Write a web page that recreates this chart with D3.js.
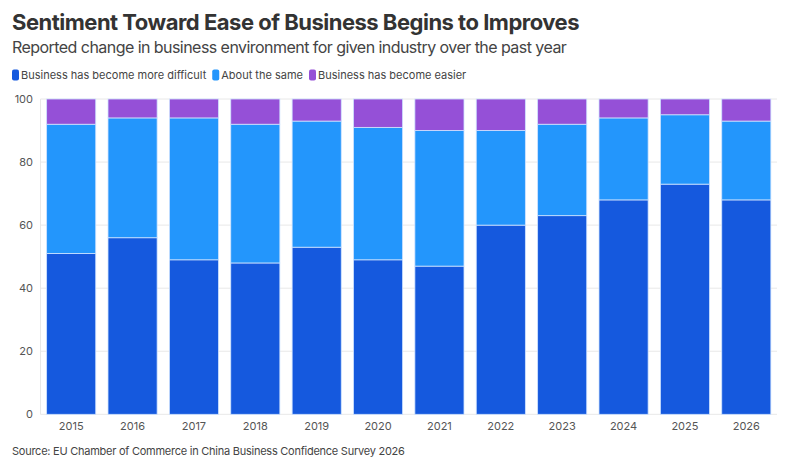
<!DOCTYPE html>
<html><head><meta charset="utf-8">
<script src="https://cdn.jsdelivr.net/npm/d3@7/dist/d3.min.js"></script>
<style>body{margin:0;background:#fff;font-family:"Inter","Open Sans",sans-serif;}</style>
</head><body><svg id="c" width="795" height="460"></svg>
<script>
const years = ["2015","2016","2017","2018","2019","2020","2021","2022","2023","2024","2025","2026"];
const difficult = [51,56,49,48,53,49,47,60,63,68,73,68];
const same      = [41,38,45,44,40,42,43,30,29,26,22,25];
const easier    = [8,6,6,8,7,9,10,10,8,6,5,7];
const seriesNames = ["Business has become more difficult","About the same","Business has become easier"];
const yTicks = [0,20,40,60,80,100];
const colors = ["#1559DE","#2396FC","#9550D7"];

const svg = d3.select("#c");
const W=795,H=460;
const m={l:40.5,r:18,t:99,b:46};
const x = d3.scaleBand().domain(years).range([m.l,W-m.r]).paddingInner(0.2).paddingOuter(0.1);
const y = d3.scaleLinear().domain([0,100]).range([414.3,99]);

svg.append("text").attr("x",12).attr("y",30).attr("font-size",22).attr("font-weight",700).attr("letter-spacing",-0.5).attr("fill","#333").text("Sentiment Toward Ease of Business Begins to Improves");
svg.append("text").attr("x",12).attr("y",53).attr("font-size",16).attr("letter-spacing",-0.55).attr("fill","#444").text("Reported change in business environment for given industry over the past year");

// legend
let lx=12;
seriesNames.forEach((n,i)=>{
  svg.append("rect").attr("x",lx).attr("y",69.5).attr("width",7).attr("height",11).attr("rx",2).attr("fill",colors[i]);
  const t=svg.append("text").attr("x",lx+9).attr("y",79).attr("font-size",11).attr("fill","#444").text(n);
  lx += 9 + t.node().getComputedTextLength() + 6;
});

// grid
svg.append("g").selectAll("line").data(yTicks).join("line")
  .attr("x1",m.l).attr("x2",W-m.r).attr("y1",d=>y(d)).attr("y2",d=>y(d))
  .attr("stroke","#e8e8e8").attr("stroke-width",1);
svg.append("line").attr("x1",m.l).attr("x2",m.l).attr("y1",y(100)).attr("y2",y(0)).attr("stroke","#e8e8e8");

const data = years.map((yr,i)=>({year:yr,difficult:difficult[i],same:same[i],easier:easier[i]}));
const stack = d3.stack().keys(["difficult","same","easier"])(data);
svg.append("g").selectAll("g").data(stack).join("g").attr("fill",(d,i)=>colors[i])
  .selectAll("rect").data(d=>d).join("rect")
  .attr("x",d=>x(d.data.year)).attr("width",x.bandwidth())
  .attr("y",d=>y(d[1])).attr("height",d=>y(d[0])-y(d[1]))
  .attr("stroke","#cfe3ff").attr("stroke-width",0.8);

// y axis labels
svg.append("g").selectAll("text").data(yTicks).join("text")
  .attr("x",33).attr("y",d=>y(d)+4).attr("text-anchor","end").attr("font-size",11).attr("fill","#555").text(d=>d);
// x labels
svg.append("g").selectAll("text").data(years).join("text")
  .attr("x",d=>x(d)+x.bandwidth()/2).attr("y",430).attr("text-anchor","middle").attr("font-size",11).attr("fill","#555").text(d=>d);

svg.append("text").attr("x",12).attr("y",455).attr("font-size",11).attr("letter-spacing",-0.25).attr("fill","#444").text("Source: EU Chamber of Commerce in China Business Confidence Survey 2026");
</script></body></html>
